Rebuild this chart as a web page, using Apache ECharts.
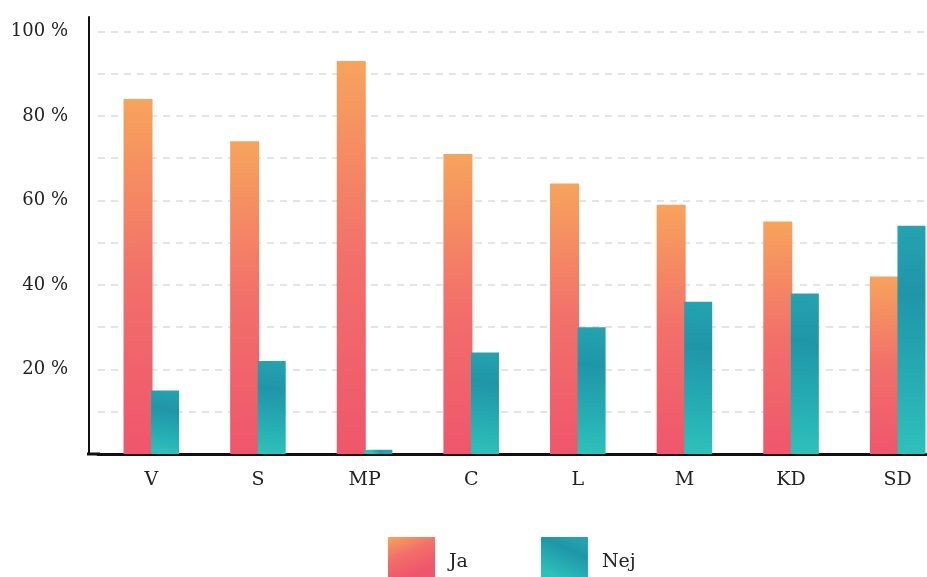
<!DOCTYPE html>
<html>
<head>
<meta charset="utf-8">
<script src="https://cdn.jsdelivr.net/npm/echarts@6/dist/echarts.min.js"></script>
<style>
html,body{margin:0;padding:0;background:#fff;overflow:hidden;width:927px;height:577px;}
#c{width:951px;height:577px;}
</style>
</head>
<body>
<div id="c"></div>
<script>
const categories = ['V', 'S', 'MP', 'C', 'L', 'M', 'KD', 'SD'];
const jaValues = [84, 74, 93, 71, 64, 59, 55, 42];
const nejValues = [15, 22, 1, 24, 30, 36, 38, 54];
const seriesNames = ['Ja', 'Nej'];

const FONT = 'DejaVu Serif';
const jaColor = new echarts.graphic.LinearGradient(0, 0, 0.35, 1, [
  { offset: 0, color: '#f7a45c' },
  { offset: 0.5, color: '#f2706a' },
  { offset: 1, color: '#ef566c' }
]);
const nejColor = new echarts.graphic.LinearGradient(0.7, 0, 0.3, 1, [
  { offset: 0, color: '#24a3b0' },
  { offset: 0.3, color: '#1f96a8' },
  { offset: 0.65, color: '#25abb2' },
  { offset: 1, color: '#2ec1bb' }
]);

const chart = echarts.init(document.getElementById('c'));
chart.setOption({
  animation: false,
  backgroundColor: '#fff',
  grid: { left: 98, right: 0, top: 17, bottom: 123, containLabel: false },
  legend: {
    data: seriesNames,
    left: 383, top: 532,
    itemWidth: 47, itemHeight: 40, itemGap: 73,
    icon: 'rect',
    formatter: name => '{t|' + name + '}',
    textStyle: {
      fontFamily: FONT, fontSize: 19, color: '#222',
      rich: { t: { fontFamily: FONT, fontSize: 19, color: '#222', padding: [10, 0, 0, 9] } }
    }
  },
  xAxis: {
    type: 'category',
    data: categories,
    axisLine: { show: true, lineStyle: { color: '#111', width: 3 } },
    axisTick: { show: false },
    axisLabel: { fontFamily: FONT, fontSize: 19, color: '#222', margin: 17 },
    splitLine: { show: false }
  },
  yAxis: {
    type: 'value',
    min: 0, max: 103.4, interval: 10,
    offset: 9,
    axisLine: { show: true, lineStyle: { color: '#111', width: 2 } },
    axisTick: { show: false },
    axisLabel: {
      fontFamily: FONT, fontSize: 18, color: '#222', margin: 21,
      showMaxLabel: false,
      formatter: v => (v > 0 && v <= 100 && v % 20 === 0) ? v + ' %' : ''
    },
    splitLine: {
      show: true, showMinLine: false, showMaxLine: false,
      lineStyle: { color: '#dcdcdc', width: 1.5, type: [7, 6] }
    }
  },
  graphic: [{
    type: 'line', z: 10,
    shape: { x1: 87, y1: 454, x2: 100, y2: 454 },
    style: { stroke: '#111', lineWidth: 3 }
  }],
  series: [
    { name: seriesNames[0], type: 'bar', data: jaValues, barWidth: 29, barGap: '-5%',
      itemStyle: { color: jaColor } },
    { name: seriesNames[1], type: 'bar', data: nejValues, barWidth: 28,
      itemStyle: { color: nejColor } }
  ]
});
</script>
</body>
</html>
